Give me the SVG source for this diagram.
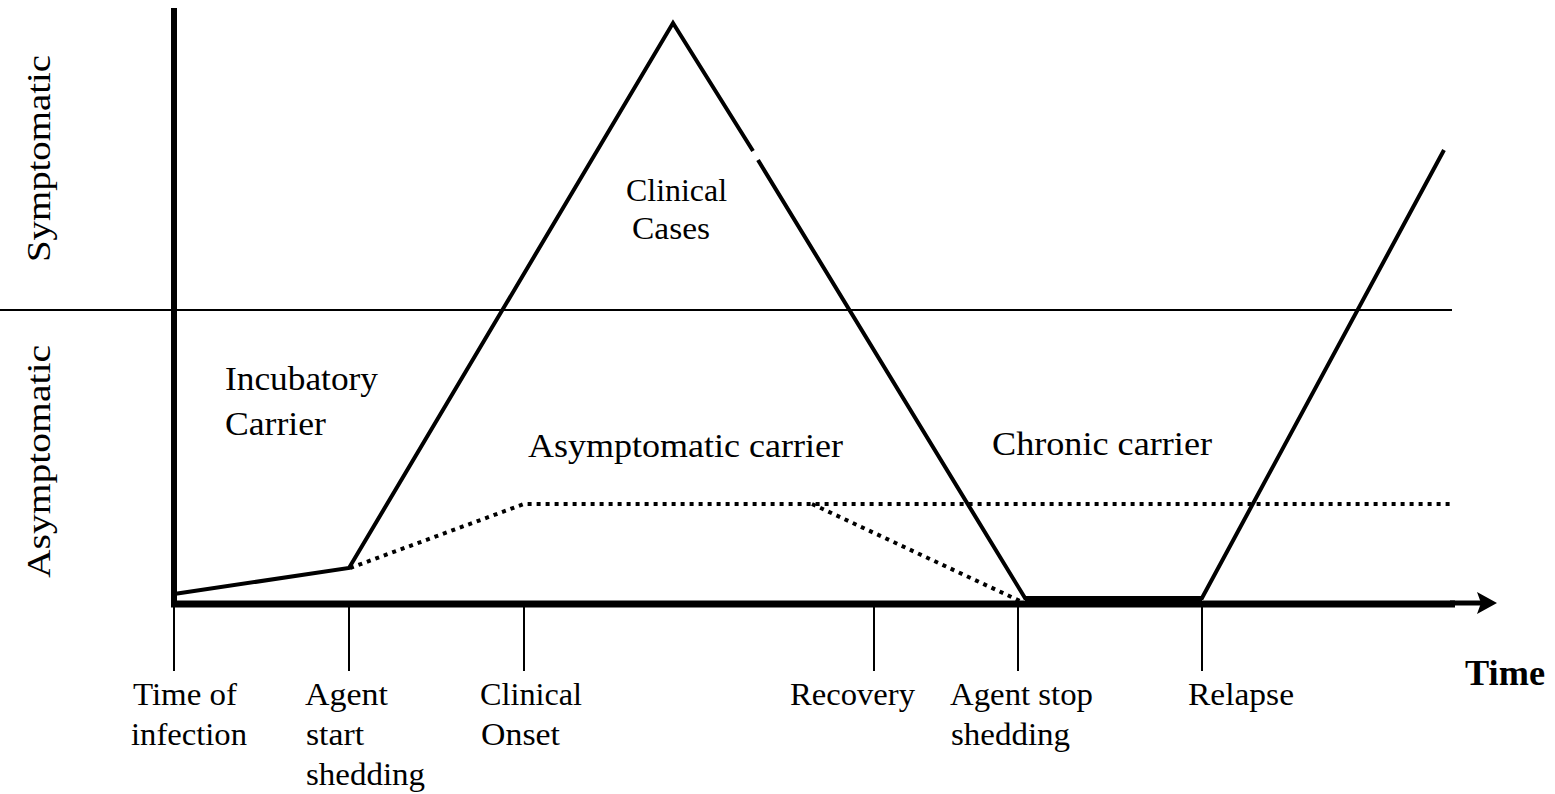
<svg xmlns="http://www.w3.org/2000/svg" width="1555" height="794" viewBox="0 0 1555 794">
<style>
text{font-family:"Liberation Serif","Times New Roman",serif;fill:#000}
.lbl{font-size:31px}
.big{font-size:33px}
.solid{fill:none;stroke:#000;stroke-width:4;stroke-linejoin:miter}
.dot{fill:none;stroke:#000;stroke-width:4;stroke-dasharray:4 5}
.tick{stroke:#000;stroke-width:2}
</style>
<rect width="1555" height="794" fill="#fff"/>
<g id="axes">
<line x1="0" y1="310" x2="1452" y2="310" stroke="#000" stroke-width="2"/>
<line x1="174" y1="8" x2="174" y2="607" stroke="#000" stroke-width="6"/>
<line x1="171" y1="604" x2="1455" y2="604" stroke="#000" stroke-width="7"/>
<line x1="1450" y1="603" x2="1482" y2="603" stroke="#000" stroke-width="5"/>
<polygon points="1477,592 1497,603 1477,614 1481,603" fill="#000"/>
<line class="tick" x1="174" y1="604" x2="174" y2="671"/>
<line class="tick" x1="349" y1="604" x2="349" y2="671"/>
<line class="tick" x1="524" y1="604" x2="524" y2="671"/>
<line class="tick" x1="874" y1="604" x2="874" y2="671"/>
<line class="tick" x1="1018" y1="604" x2="1018" y2="671"/>
<line class="tick" x1="1202" y1="604" x2="1202" y2="671"/>
</g>
<g id="curves">
<polyline class="dot" points="350,568 524,504 1452,504"/>
<polyline class="dot" points="812,504 1020,601"/>
<polyline class="solid" points="174,594 349,568 673,23 753,151"/>
<polyline class="solid" points="758,160 1025,598 1202,598 1444,150"/>
<line x1="1025" y1="599" x2="1202" y2="599" stroke="#000" stroke-width="5"/>
</g>
<g id="region-labels">
<text class="big" x="225" y="390" textLength="153" lengthAdjust="spacingAndGlyphs">Incubatory</text>
<text class="big" x="225" y="435" textLength="101" lengthAdjust="spacingAndGlyphs">Carrier</text>
<text class="lbl" x="626" y="201" textLength="101" lengthAdjust="spacingAndGlyphs">Clinical</text>
<text class="lbl" x="632" y="239" textLength="78" lengthAdjust="spacingAndGlyphs">Cases</text>
<text class="big" x="528" y="457" textLength="315" lengthAdjust="spacingAndGlyphs">Asymptomatic carrier</text>
<text class="big" x="992" y="455" textLength="220" lengthAdjust="spacingAndGlyphs">Chronic carrier</text>
<text class="big" transform="translate(50,262) rotate(-90)" textLength="207" lengthAdjust="spacingAndGlyphs">Symptomatic</text>
<text class="big" transform="translate(50,578) rotate(-90)" textLength="233" lengthAdjust="spacingAndGlyphs">Asymptomatic</text>
</g>
<g id="time-labels">
<text class="lbl" x="133" y="705" textLength="104" lengthAdjust="spacingAndGlyphs">Time of</text>
<text class="lbl" x="131" y="745" textLength="116" lengthAdjust="spacingAndGlyphs">infection</text>
<text class="lbl" x="305" y="705" textLength="83" lengthAdjust="spacingAndGlyphs">Agent</text>
<text class="lbl" x="306" y="745" textLength="58" lengthAdjust="spacingAndGlyphs">start</text>
<text class="lbl" x="306" y="785" textLength="119" lengthAdjust="spacingAndGlyphs">shedding</text>
<text class="lbl" x="480" y="705" textLength="102" lengthAdjust="spacingAndGlyphs">Clinical</text>
<text class="lbl" x="481" y="745" textLength="79" lengthAdjust="spacingAndGlyphs">Onset</text>
<text class="lbl" x="790" y="705" textLength="125" lengthAdjust="spacingAndGlyphs">Recovery</text>
<text class="lbl" x="950" y="705" textLength="143" lengthAdjust="spacingAndGlyphs">Agent stop</text>
<text class="lbl" x="951" y="745" textLength="119" lengthAdjust="spacingAndGlyphs">shedding</text>
<text class="lbl" x="1188" y="705" textLength="106" lengthAdjust="spacingAndGlyphs">Relapse</text>
<text x="1465" y="685" font-size="36" font-weight="bold" textLength="80" lengthAdjust="spacingAndGlyphs">Time</text>
</g>
</svg>
